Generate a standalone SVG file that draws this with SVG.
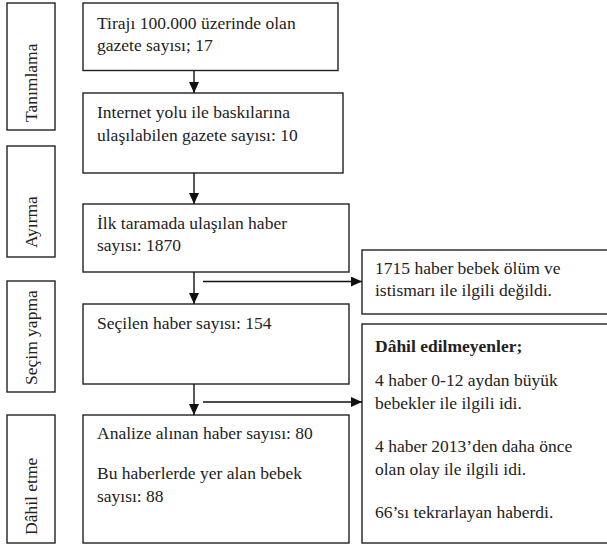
<svg xmlns="http://www.w3.org/2000/svg" width="607" height="546" viewBox="0 0 607 546">
<defs>
<marker id="ah" markerWidth="11" markerHeight="10" refX="11" refY="5" orient="auto" markerUnits="userSpaceOnUse">
<path d="M0,0 L11,5 L0,10 Z" fill="#111"/>
</marker>
<style>
.box{fill:#fff;stroke:#222;stroke-width:1.4}
.t{font-family:"Liberation Serif","Times New Roman",serif;font-size:17.5px;fill:#222}
.b{font-weight:bold}
.c{fill:none;stroke:#111;stroke-width:1.4}
</style>
</defs>
<rect width="607" height="546" fill="#fff"/>
<g id="label-tanimlama">
<rect class="box" x="7" y="3" width="48" height="127"/>
<text class="t" transform="translate(37,122) rotate(-90)">Tanımlama</text>
</g>
<g id="label-ayirma">
<rect class="box" x="7" y="146" width="48" height="111"/>
<text class="t" transform="translate(37,248) rotate(-90)">Ayırma</text>
</g>
<g id="label-secim">
<rect class="box" x="7" y="281" width="48" height="111"/>
<text class="t" transform="translate(37,385) rotate(-90)">Seçim yapma</text>
</g>
<g id="label-dahil">
<rect class="box" x="7" y="415" width="48" height="128"/>
<text class="t" transform="translate(37,535) rotate(-90)">Dâhil etme</text>
</g>
<g id="box1">
<rect class="box" x="83" y="3" width="255" height="67.5"/>
<text class="t" x="97" y="28.5">Tirajı 100.000 üzerinde olan</text>
<text class="t" x="97" y="51">gazete sayısı; 17</text>
</g>
<g id="box2">
<rect class="box" x="83" y="93" width="260" height="80"/>
<text class="t" x="97" y="118">Internet yolu ile baskılarına</text>
<text class="t" x="97" y="140.5">ulaşılabilen gazete sayısı: 10</text>
</g>
<g id="box3">
<rect class="box" x="83" y="204" width="266" height="68"/>
<text class="t" x="97" y="228.5">İlk taramada ulaşılan haber</text>
<text class="t" x="97" y="251">sayısı: 1870</text>
</g>
<g id="box4">
<rect class="box" x="83" y="304" width="266" height="80"/>
<text class="t" x="97" y="328.5">Seçilen haber sayısı: 154</text>
</g>
<g id="box5">
<rect class="box" x="83" y="415" width="266" height="128"/>
<text class="t" x="97" y="439">Analize alınan haber sayısı: 80</text>
<text class="t" x="97" y="479">Bu haberlerde yer alan bebek</text>
<text class="t" x="97" y="502">sayısı: 88</text>
</g>
<g id="excluded1">
<rect class="box" x="362" y="250" width="260" height="64"/>
<text class="t" x="375" y="273.5">1715 haber bebek ölüm ve</text>
<text class="t" x="375" y="296">istismarı ile ilgili değildi.</text>
</g>
<g id="excluded2">
<rect class="box" x="362" y="324" width="260" height="219"/>
<text class="t b" x="375" y="352">Dâhil edilmeyenler;</text>
<text class="t" x="375" y="386">4 haber 0-12 aydan büyük</text>
<text class="t" x="375" y="408.5">bebekler ile ilgili idi.</text>
<text class="t" x="375" y="452">4 haber 2013’den daha önce</text>
<text class="t" x="375" y="475">olan olay ile ilgili idi.</text>
<text class="t" x="375" y="517.5">66’sı tekrarlayan haberdi.</text>
</g>
<g id="connectors">
<path class="c" d="M194,70.5 V93" marker-end="url(#ah)"/>
<path class="c" d="M194,173 V204" marker-end="url(#ah)"/>
<path class="c" d="M194,272 V304" marker-end="url(#ah)"/>
<path class="c" d="M194,384 V415" marker-end="url(#ah)"/>
<path class="c" d="M203,281.5 H362" marker-end="url(#ah)"/>
<path class="c" d="M203,402 H362" marker-end="url(#ah)"/>
</g>
</svg>
